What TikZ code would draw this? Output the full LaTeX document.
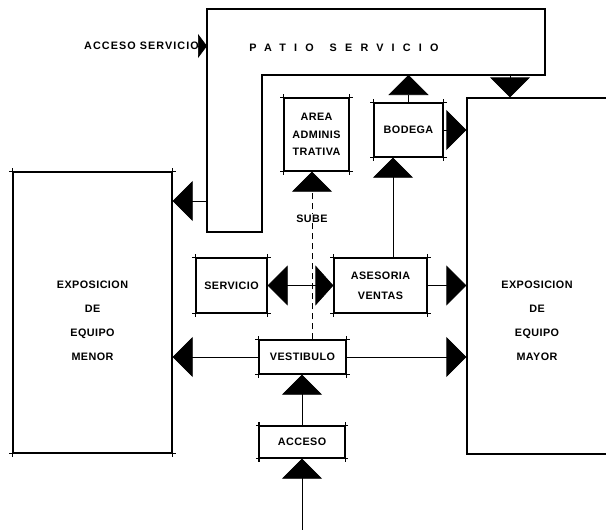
\documentclass[tikz,border=0pt]{standalone}
\usepackage{fontspec}
\setmainfont{Liberation Sans}
\usetikzlibrary{arrows.meta}
\newcommand\plano[1][13pt]{\fontsize{10.8pt}{#1}\selectfont\bfseries\addfontfeature{LetterSpace=4}}
\tikzset{
  room/.style={draw, line width=1.2pt, inner sep=0pt, align=center, font=\plano},
  wall/.style={line width=1.2pt},
  link/.style={line width=0.7pt, -{Triangle[width=40pt,length=20pt]}},
  label/.style={inner sep=1pt, align=center, font=\plano}
}
\begin{document}
\begin{tikzpicture}[x=1pt, y=-1pt]
\useasboundingbox (0,0) rectangle (606,530);
% patio de servicio
\draw[wall] (207,9) -- (545,9) -- (545,75) -- (262,75) -- (262,232) -- (207,232) -- cycle;
\node[label, font={\plano\addfontfeature{LetterSpace=76}}] (patio) at (344,48) {PATIO\hspace{16pt}SERVICIO};
\coordinate (pa) at (207,46);
\coordinate (pl) at (207,201);
\coordinate (pm) at (510,75);
% locales
\node[room, minimum width=65pt, minimum height=73pt, font={\plano[17.5pt]}] (area) at (316.5,134.5) {AREA\\ADMINIS\\TRATIVA};
\node[room, minimum width=69pt, minimum height=54pt] (bodega) at (408.5,130) {BODEGA};
\node[room, minimum width=71pt, minimum height=55pt] (servicio) at (231.5,285.5) {SERVICIO};
\node[room, minimum width=93pt, minimum height=55pt, font={\plano[20pt]}] (asesoria) at (380.5,285.5) {ASESORIA\\VENTAS};
\node[room, minimum width=87pt, minimum height=34pt] (vestibulo) at (302.5,357) {VESTIBULO};
\node[room, minimum width=85pt, minimum height=32pt] (acceso) at (302,442) {ACCESO};
\node[room, minimum width=159pt, minimum height=281pt] (menor) at (92.5,312.5) {};
\node[room, minimum width=141pt, minimum height=356pt] (mayor) at (537.5,276) {};
\node[label, font={\plano[24pt]}] at (92.5,321) {EXPOSICION\\DE\\EQUIPO\\MENOR};
\node[label, font={\plano[24pt]}] at (537,321) {EXPOSICION\\DE\\EQUIPO\\MAYOR};
\foreach \r in {area,bodega,servicio,asesoria,vestibulo,acceso,menor}{
  \draw[wall] ([xshift=-3pt]\r.north west) -- ([xshift=3pt]\r.north east)
              ([xshift=-3pt]\r.south west) -- ([xshift=3pt]\r.south east)
              ([yshift=3pt]\r.north west) -- ([yshift=-3pt]\r.south west)
              ([yshift=3pt]\r.north east) -- ([yshift=-3pt]\r.south east);
}
% circulaciones
\node[label, anchor=east, font={\plano\addfontfeature{LetterSpace=10}}] (accserv) at (200,46) {ACCESO SERVICIO};
\draw[line width=0.7pt, -{Triangle[width=24pt,length=9pt]}] (accserv.east) -- (pa);
\draw[link] (pm) -- (pm |- mayor.north);
\draw[link] (bodega.north) -- (bodega.north |- pm);
\draw[link] (bodega.east) -- (bodega.east -| mayor.west);
\draw[link] ([xshift=12.5pt]asesoria.north) -- ([xshift=-15.5pt]bodega.south);
\draw[link] (pl) -- (pl -| menor.east);
\draw[link, dash pattern=on 6pt off 4pt] ([xshift=9.5pt]vestibulo.north) -- ([xshift=-4.5pt]area.south)
  node[label, pos=0.72, fill=white] (sube) {SUBE};
\draw[link, {Triangle[width=40pt,length=20pt]}-{Triangle[width=40pt,length=18pt]}] (servicio) -- (asesoria);
\draw[link] (asesoria.east) -- (asesoria.east -| mayor.west);
\draw[link] (vestibulo.west) -- (vestibulo.west -| menor.east);
\draw[link] (vestibulo.east) -- (vestibulo.east -| mayor.west);
\draw[link] (acceso.north) -- (acceso.north |- vestibulo.south);
\coordinate (entrada) at (302,530);
\draw[link] (entrada) -- (entrada |- acceso.south);
\end{tikzpicture}
\end{document}
